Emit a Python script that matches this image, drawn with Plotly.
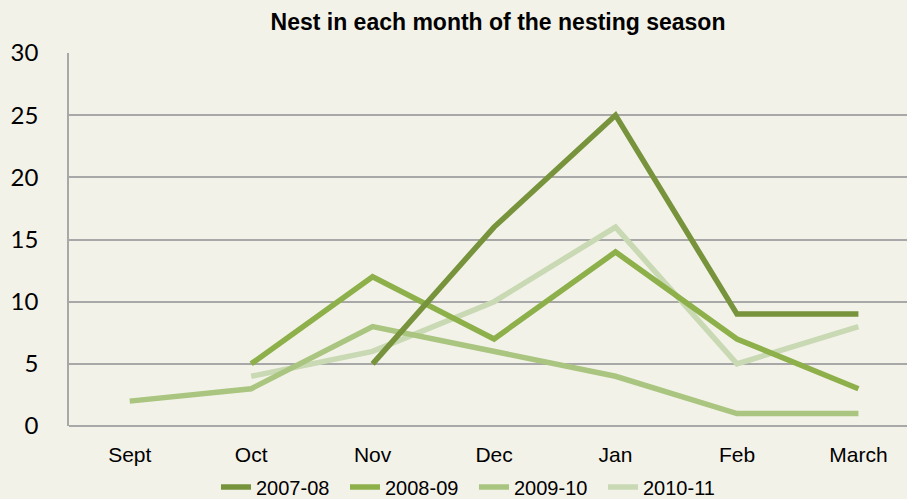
import plotly.graph_objects as go

# ── Palette ───────────────────────────────────────────────────────────────────
_BG = "#F3F2E9"
_GRID = "#A8A8A8"
_TEXT = "#000000"
_COLORS = ["#77933C", "#8DB04A", "#A9C57F", "#C8D9B3"]
_FONT = "Liberation Sans, Arial, sans-serif"

# ── Données ───────────────────────────────────────────────────────────────────
MONTHS = ["Sept", "Oct", "Nov", "Dec", "Jan", "Feb", "March"]
SEASONS = ["2007-08", "2008-09", "2009-10", "2010-11"]

NESTS_2007_08 = [None, None, 5, 16, 25, 9, 9]
NESTS_2008_09 = [None, 5, 12, 7, 14, 7, 3]
NESTS_2009_10 = [2, 3, 8, 6, 4, 1, 1]
NESTS_2010_11 = [None, 4, 6, 10, 16, 5, 8]

Y_TICKS = [0, 5, 10, 15, 20, 25, 30]

series = [NESTS_2007_08, NESTS_2008_09, NESTS_2009_10, NESTS_2010_11]

fig = go.Figure()

# la saison la plus claire est dessinée en dessous
for name, vals, color in reversed(list(zip(SEASONS, series, _COLORS))):
    fig.add_trace(go.Scatter(
        x=MONTHS,
        y=vals,
        name=name,
        mode="lines",
        line=dict(color=color, width=5.5),
        connectgaps=False,
    ))

fig.update_layout(
    width=907,
    height=499,
    paper_bgcolor=_BG,
    plot_bgcolor=_BG,
    margin=dict(t=53, b=73, l=69, r=0, autoexpand=False),
    title=dict(
        text="<b>Nest in each month of the nesting season</b>",
        font=dict(family=_FONT, size=23, color=_TEXT),
        x=498 / 907,
        xanchor="center",
        y=1 - 22 / 499,
        yanchor="middle",
        automargin=False,
    ),
    xaxis=dict(
        type="category",
        categoryorder="array",
        categoryarray=MONTHS,
        range=[-0.5, 6.4],
        showgrid=False,
        showline=False,
        zeroline=False,
        ticks="",
        automargin=False,
        ticklabelstandoff=14,
        tickfont=dict(family=_FONT, size=21, color=_TEXT),
    ),
    yaxis=dict(
        range=[0, 30],
        tickvals=Y_TICKS,
        showgrid=True,
        gridcolor=_GRID,
        gridwidth=1.5,
        zeroline=True,
        zerolinecolor=_GRID,
        zerolinewidth=1.5,
        showline=True,
        linecolor=_GRID,
        linewidth=1.5,
        ticks="",
        automargin=False,
        ticklabelstandoff=24,
        tickfont=dict(family="Lato, Calibri, sans-serif", size=24, color=_TEXT),
    ),
    legend=dict(
        orientation="h",
        traceorder="reversed",
        xref="container",
        yref="container",
        x=216 / 907,
        xanchor="left",
        y=12 / 499,
        yanchor="middle",
        entrywidth=84,
        entrywidthmode="pixels",
        font=dict(family=_FONT, size=20, color=_TEXT),
        bgcolor="rgba(0,0,0,0)",
    ),
    showlegend=True,
)

# pas de marge de page ni de barre d'outils
fig.write_html(
    "out.html",
    config={"displayModeBar": False},
    post_script="document.body.style.margin='0';",
)
